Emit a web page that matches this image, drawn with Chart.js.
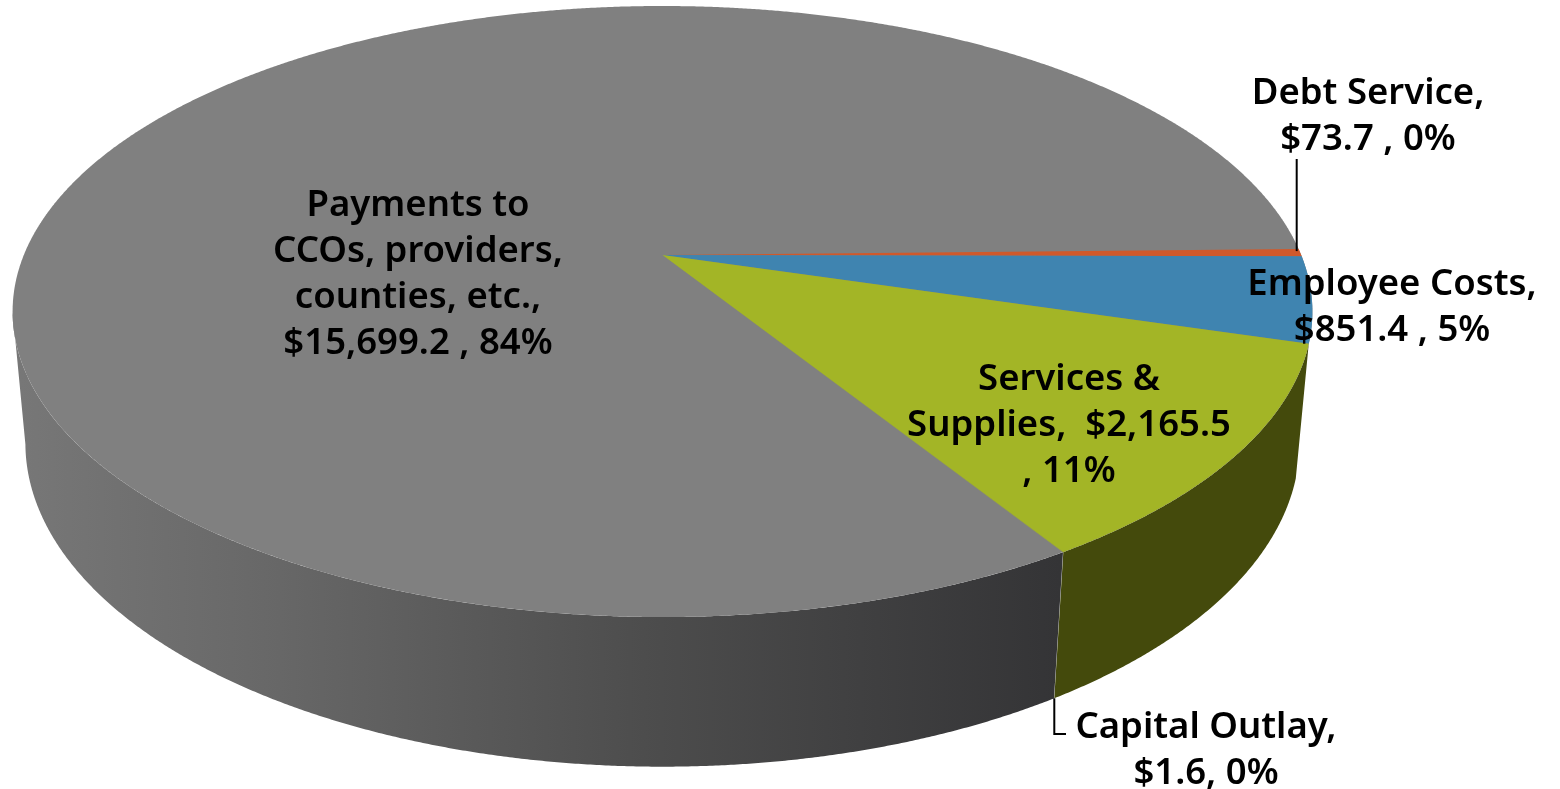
<!DOCTYPE html>
<html>
<head>
<meta charset="utf-8">
<style>html,body{margin:0;padding:0;background:#fff}canvas{display:block}</style>
<script src="https://cdn.jsdelivr.net/npm/chart.js@4"></script>
</head>
<body>
<canvas id="c" width="1560" height="789"></canvas>
<script>
const categories = ["Debt Service", "Employee Costs", "Services & Supplies", "Capital Outlay", "Payments to CCOs, providers, counties, etc."];
const amounts = [73.7, 851.4, 2165.5, 1.6, 15699.2];
const topColors = ["#d0592b", "#3f84b0", "#a3b526", "#a3b526", "#808080"];
const labelLines = [
  ["Debt Service,", "$73.7 , 0%"],
  ["Employee Costs,", "$851.4 , 5%"],
  ["Services &", "Supplies,  $2,165.5", ", 11%"],
  ["Capital Outlay,", "$1.6, 0%"],
  ["Payments to", "CCOs, providers,", "counties, etc.,", "$15,699.2 , 84%"]
];
const labelAnchors = [[1368, 94], [1392, 285], [1069, 380], [1206, 728], [418, 206]];
const FONT = "600 36.5px 'Noto Sans'";
const LINE_H = 46;

// perspective of the disc
const PERSP = 0.185, KX = 2.565, KY = 1.185, MU = 1.217e-5, VANISH_Y = 7050;

function project(el, a) {
  const u = Math.cos(a), v = Math.sin(a), w = 1 - PERSP * v;
  return [el.x + el.outerRadius * KX * u / w, el.y + el.outerRadius * KY * v / w];
}
function lower(el, p) {
  const yh = el.y - el.outerRadius * KY / PERSP;
  const m = MU * (p[1] - yh), t = m / (1 + m);
  return [p[0] + t * (el.x - p[0]), p[1] + t * (VANISH_Y - p[1])];
}
function arcPoints(el, a0, a1, fn) {
  const n = Math.max(2, Math.ceil((a1 - a0) / 0.004));
  const pts = [];
  for (let i = 0; i <= n; i++) pts.push(fn(a0 + (a1 - a0) * i / n));
  return pts;
}

const pie3d = {
  id: 'pie3d',
  beforeDatasetDraw(chart, args) {
    const ctx = chart.ctx, arcs = chart.getDatasetMeta(0).data;
    const c0 = arcs[0];
    const full = arcPoints(c0, 0, Math.PI * 2, a => project(c0, a));
    // visible front of the wall
    const fMin = Math.asin(PERSP), fMax = Math.PI - fMin;
    const grad = ctx.createLinearGradient(20, 0, 1060, 0);
    grad.addColorStop(0, '#777777');
    grad.addColorStop(0.25, '#676767');
    grad.addColorStop(0.6, '#4d4d4d');
    grad.addColorStop(1, '#343436');
    const wallFill = [null, null, '#444a0c', null, grad];
    arcs.forEach((el, i) => {
      if (!wallFill[i]) return;
      const norm = a => { let x = a % (2 * Math.PI); if (x < -Math.PI / 2) x += 2 * Math.PI; return x; };
      const s = norm(el.startAngle);
      const e = s + (el.endAngle - el.startAngle);
      const a0 = Math.max(s, fMin), a1 = Math.min(e, fMax);
      if (a1 <= a0) return;
      const t = arcPoints(el, a0, a1, a => project(el, a));
      const b = t.map(p => lower(el, p)).reverse();
      ctx.beginPath();
      t.concat(b).forEach((p, k) => k ? ctx.lineTo(p[0], p[1]) : ctx.moveTo(p[0], p[1]));
      ctx.closePath();
      ctx.fillStyle = wallFill[i];
      ctx.fill();
    });
    // top face
    ctx.beginPath();
    full.forEach((p, k) => k ? ctx.lineTo(p[0], p[1]) : ctx.moveTo(p[0], p[1]));
    ctx.closePath();
    ctx.fillStyle = topColors[4];
    ctx.fill();
    arcs.forEach((el, i) => {
      if (i === 4) return;
      const pts = arcPoints(el, el.startAngle, el.endAngle, a => project(el, a));
      ctx.beginPath();
      ctx.moveTo(el.x, el.y);
      pts.forEach(p => ctx.lineTo(p[0], p[1]));
      ctx.closePath();
      ctx.fillStyle = topColors[i];
      ctx.fill();
    });
    return false;
  },
  afterDraw(chart) {
    const ctx = chart.ctx, arcs = chart.getDatasetMeta(0).data;
    ctx.save();
    ctx.strokeStyle = '#000';
    ctx.lineWidth = 2;
    const debtEnd = project(arcs[0], arcs[0].startAngle);
    ctx.beginPath();
    ctx.moveTo(debtEnd[0] - 2, 159);
    ctx.lineTo(debtEnd[0] - 2, debtEnd[1] + 2);
    ctx.stroke();
    const capBase = lower(arcs[3], project(arcs[3], arcs[3].startAngle));
    ctx.beginPath();
    ctx.moveTo(capBase[0], capBase[1]);
    ctx.lineTo(capBase[0], 734);
    ctx.lineTo(1066, 734);
    ctx.stroke();
    ctx.fillStyle = '#000';
    ctx.font = FONT;
    ctx.textAlign = 'center';
    ctx.textBaseline = 'middle';
    labelLines.forEach((lines, i) => {
      lines.forEach((ln, k) => ctx.fillText(ln, labelAnchors[i][0], labelAnchors[i][1] + k * LINE_H));
    });
    ctx.restore();
  }
};

new Chart(document.getElementById('c'), {
  type: 'pie',
  data: {
    labels: categories,
    datasets: [{ data: amounts, backgroundColor: topColors, borderWidth: 0 }]
  },
  options: {
    responsive: false,
    animation: false,
    rotation: 88.85,
    layout: { padding: { left: 12, right: 247, top: 6, bottom: 285 } },
    plugins: { legend: { display: false }, tooltip: { enabled: false } }
  },
  plugins: [pie3d]
});
</script>
</body>
</html>
